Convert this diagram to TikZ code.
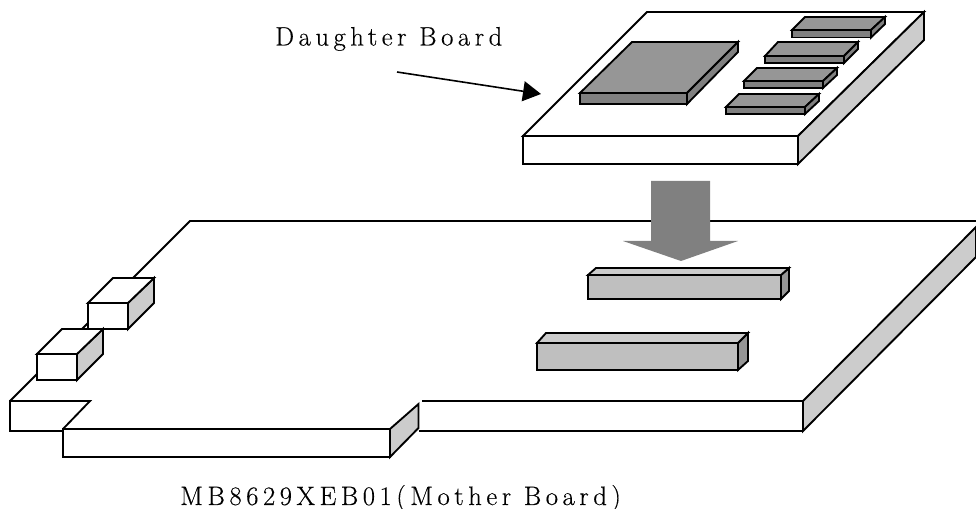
\documentclass[tikz,border=0pt]{standalone}
\usepackage{fontspec}
\newfontfamily\labelfont{Latin Modern Roman}[LetterSpace=17,FakeBold=0.3]
\usetikzlibrary{arrows.meta}
\definecolor{sidegray}{HTML}{CCCCCC}
\definecolor{chiptop}{HTML}{969696}
\definecolor{chipfront}{HTML}{808080}
\definecolor{contop}{HTML}{CCCCCC}
\definecolor{confront}{HTML}{BFBFBF}
\definecolor{conside}{HTML}{969696}
\tikzset{
  outline/.style={draw=black,line width=1.4pt,line join=miter},
  plain/.style={outline,fill=white},
  side/.style={outline,fill=sidegray},
  ctop/.style={outline,fill=chiptop},
  cfront/.style={outline,fill=chipfront},
  ktop/.style={outline,fill=contop},
  kfront/.style={outline,fill=confront},
  kside/.style={outline,fill=conside},
  caption/.style={inner sep=0pt,text=black,anchor=base west,font=\labelfont\fontsize{20pt}{22pt}\selectfont},
}
\begin{document}
\begin{tikzpicture}[x=0.75pt,y=-0.75pt]
\useasboundingbox (0,0) rectangle (976,509);
% mother board
\fill[white] (190,221) -- (976,221) -- (976,227) -- (803,401) -- (422,401) -- (419,428) -- (63,429) -- (10,401) -- cycle;
\draw[outline] (10,401) -- (190,221) -- (976,221);
\draw[side] (803,401) -- (976,227) -- (976,257) -- (803,431) -- cycle;
\draw[outline] (422,401) -- (803,401);
\draw[outline] (418.5,431) -- (803,431);
\draw[plain] (10,401) -- (90,401) -- (63,429) -- (63,431) -- (10,431) -- cycle;
\draw[plain] (63,429) rectangle (390,457);
\draw[side] (390,429) -- (418.5,404) -- (418.5,428) -- (390,457) -- cycle;
% USB-like boxes
\draw[side] (128,303) -- (154,278) -- (154,303) -- (128,329) -- cycle;
\draw[plain] (88,303) -- (113,278) -- (154,278) -- (128,303) -- cycle;
\draw[plain] (88,303) rectangle (128,329);
\draw[side] (77,354) -- (103,329) -- (103,354) -- (77,380) -- cycle;
\draw[plain] (37,354) -- (62,329) -- (103,329) -- (77,354) -- cycle;
\draw[plain] (37,354) rectangle (77,380);
% connectors
\draw[kside] (781,275) -- (789,268) -- (789,291) -- (781,299) -- cycle;
\draw[ktop] (588,275) -- (596,268) -- (789,268) -- (781,275) -- cycle;
\draw[kfront] (588,275) rectangle (781,299);
\draw[kside] (738,343) -- (748,333) -- (748,361) -- (738,370) -- cycle;
\draw[ktop] (537,343) -- (546,333) -- (748,333) -- (738,343) -- cycle;
\draw[kfront] (537,343) rectangle (738,370);
% big arrow
\fill[chipfront] (651,181) -- (710,181) -- (710,241) -- (738,241) -- (681,261) -- (623,241) -- (651,241) -- cycle;
% daughter board
\draw[plain] (523,136) -- (647,12) -- (924,12) -- (798,136) -- cycle;
\draw[side] (798,136) -- (924,12) -- (924,40) -- (798,164) -- cycle;
\draw[plain] (523,136) rectangle (798,164);
% large chip
\draw[ctop] (580,93) -- (632,42) -- (738,42) -- (687,93) -- cycle;
\draw[cfront] (687,93) -- (738,42) -- (738,52) -- (687,104) -- cycle;
\draw[cfront] (580,93) rectangle (687,104);
% small chips
\draw[ctop] (792,30) -- (805,17) -- (885,17) -- (871,30) -- cycle;
\draw[cfront] (871,30) -- (885,17) -- (885,24) -- (871,37.5) -- cycle;
\draw[cfront] (792,30) rectangle (871,37.5);
\draw[ctop] (765,56) -- (778,42) -- (858,42) -- (844,56) -- cycle;
\draw[cfront] (844,56) -- (858,42) -- (858,49) -- (844,63) -- cycle;
\draw[cfront] (765,56) rectangle (844,63);
\draw[ctop] (744,81) -- (757,68) -- (837,68) -- (823,81) -- cycle;
\draw[cfront] (823,81) -- (837,68) -- (837,75) -- (823,88) -- cycle;
\draw[cfront] (744,81) rectangle (823,88);
\draw[ctop] (726,107) -- (739,94) -- (819,94) -- (805,107) -- cycle;
\draw[cfront] (805,107) -- (819,94) -- (819,101) -- (805,114) -- cycle;
\draw[cfront] (726,107) rectangle (805,114);
% labels
\node[caption] (dblabel) at (275,45.5) {Daughter Board};
\node[caption] (mblabel) at (180,505) {MB8629XEB01(Mother Board)};
\coordinate (arrowstart) at (397,72);
\coordinate (arrowtip) at (541,94);
\draw[line width=1.2pt,-{Triangle[length=13.5pt,width=15pt]}] (arrowstart) -- (arrowtip);
\end{tikzpicture}
\end{document}
